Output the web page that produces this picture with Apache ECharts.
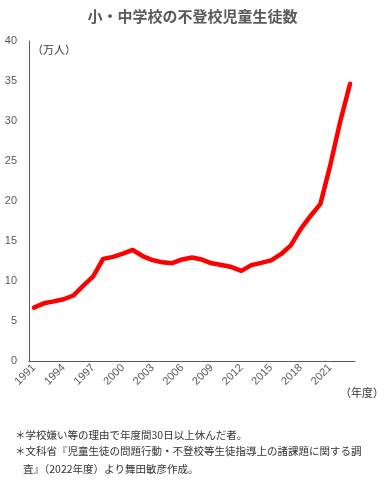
<!DOCTYPE html>
<html>
<head>
<meta charset="utf-8">
<script src="https://cdn.jsdelivr.net/npm/echarts@6/dist/echarts.min.js"></script>
<style>
html,body{margin:0;padding:0;background:#fff;}
#c{width:385px;height:484px;}
</style>
</head>
<body>
<div id="c"></div>
<script>
var years = ['1991','1992','1993','1994','1995','1996','1997','1998','1999','2000','2001','2002','2003','2004','2005','2006','2007','2008','2009','2010','2011','2012','2013','2014','2015','2016','2017','2018','2019','2020','2021','2022','2023'];
var values = [6.68,7.21,7.45,7.72,8.19,9.42,10.57,12.77,13.02,13.43,13.88,13.12,12.62,12.33,12.23,12.69,12.94,12.68,12.21,11.99,11.74,11.27,11.99,12.27,12.58,13.35,14.45,16.48,18.13,19.64,24.49,29.90,34.65];
var yTicks = {min:0, max:40, interval:5};

var FONT = '"Noto Sans CJK JP", "Noto Sans", sans-serif';
var chart = echarts.init(document.getElementById('c'));
chart.setOption({
  animation:false,
  title:{
    text:'小・中学校の不登校児童生徒数',
    left:'center', top:4,
    textStyle:{fontFamily:FONT, fontSize:15, fontWeight:'bold', color:'#595959'}
  },
  grid:{left:29, right:30, top:41, bottom:123, containLabel:false},
  xAxis:{
    type:'category', data:years, boundaryGap:true,
    axisLine:{show:true, lineStyle:{color:'#595959', width:1}},
    axisTick:{show:false},
    axisLabel:{interval:2, rotate:45, fontSize:11, color:'#595959', margin:5, fontFamily:'"Liberation Sans", Arial, sans-serif'}
  },
  yAxis:{
    type:'value', min:yTicks.min, max:yTicks.max, interval:yTicks.interval,
    axisLine:{show:true, lineStyle:{color:'#595959', width:1}},
    axisTick:{show:false},
    splitLine:{show:false},
    axisLabel:{fontSize:11, color:'#595959', margin:12, fontFamily:'"Liberation Sans", Arial, sans-serif'}
  },
  series:[{
    type:'line', data:values, symbol:'none', smooth:false,
    lineStyle:{color:'#FF0000', width:4.5, join:'round', cap:'round'}
  }],
  graphic:[
    {type:'text', left:32, top:44, style:{text:'（万人）', font:'11px '+FONT, fill:'#333'}},
    {type:'text', left:340, top:387, style:{text:'（年度）', font:'11px '+FONT, fill:'#333'}},
    {type:'text', left:15, top:430, style:{text:'＊学校嫌い等の理由で年度間30日以上休んだ者。', font:'10.5px '+FONT, fill:'#333'}},
    {type:'text', left:15, top:446, style:{text:'＊文科省『児童生徒の問題行動・不登校等生徒指導上の諸課題に関する調', font:'10.5px '+FONT, fill:'#333'}},
    {type:'text', left:23, top:464, style:{text:'査』（2022年度）より舞田敏彦作成。', font:'10.5px '+FONT, fill:'#333'}}
  ]
});
</script>
</body>
</html>
